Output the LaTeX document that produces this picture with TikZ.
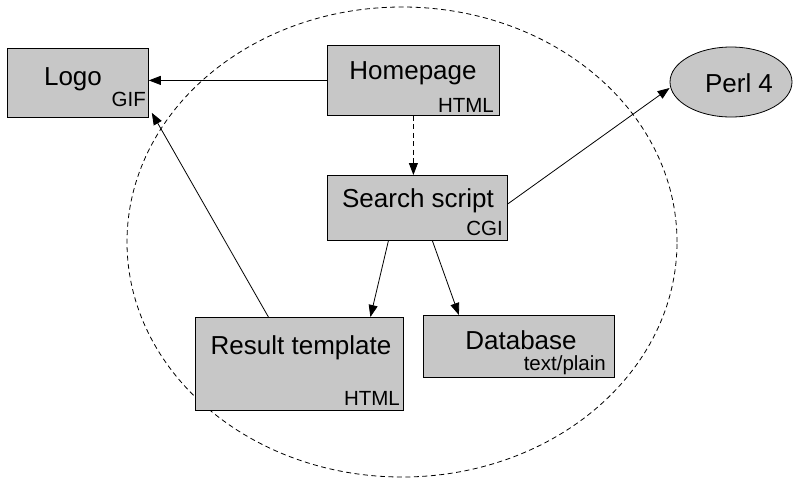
\documentclass[tikz,border=0pt]{standalone}
\usepackage{fontspec}
\setmainfont{Liberation Sans}
\usetikzlibrary{arrows.meta,calc,shapes.geometric}

\tikzset{
  box/.style={draw=black, line width=0.8pt, fill=black!22, rectangle,
    inner sep=0pt, anchor=north west},
  title/.style={font=\fontsize{26}{30}\selectfont, anchor=base, inner sep=0pt},
  kind/.style={font=\fontsize{20.5}{24}\selectfont, anchor=base east, inner sep=0pt},
  link/.style={line width=0.8pt, -{Triangle[length=12pt,width=9pt]}},
  dashline/.style={dash pattern=on 5pt off 3.5pt},
}

\begin{document}
\begin{tikzpicture}[x=1pt,y=-1pt]
  \useasboundingbox (0,0) rectangle (797,480);

  % the boundary of the web site
  \node[draw, dashline, line width=0.8pt, ellipse, minimum width=550pt,
        minimum height=470pt, inner sep=0pt] (site) at (402,242) {};

  % documents
  \node[box, minimum width=141pt, minimum height=69pt] (logo) at (7,48) {};
  \node[box, minimum width=172pt, minimum height=70pt] (home) at (327,45) {};
  \node[box, minimum width=180pt, minimum height=65pt] (search) at (327,175) {};
  \node[box, minimum width=208pt, minimum height=93pt] (result) at (195,317) {};
  \node[box, minimum width=191pt, minimum height=62pt] (db) at (423,315) {};
  \node[draw, line width=0.8pt, fill=black!22, ellipse, minimum width=122pt,
        minimum height=70pt, inner sep=0pt] (perl) at (731,82) {};

  % labels
  \node[title] (logoT) at (73,85) {Logo};
  \node[kind] (logoK) at (146,106) {GIF};
  \node[title] (homeT) at (413,79) {Homepage};
  \node[kind] (homeK) at (494,112) {HTML};
  \node[title] (searchT) at (418,207) {Search script};
  \node[kind] (searchK) at (503,235) {CGI};
  \node[title] (resultT) at (301,354) {Result template};
  \node[kind] (resultK) at (400,405) {HTML};
  \node[title] (dbT) at (521,349) {Database};
  \node[kind] (dbK) at (606,370) {text/plain};
  \node[title] (perlT) at (739,92) {Perl 4};

  % connections
  \draw[link] (home.west) -- (home.west -| logo.east);
  \draw[link, dashline] (home.south) -- (home.south |- search.north);
  \draw[link] ($(search.east)+(0,-4)$) -- ($(perl.west)+(0,6)$);
  \draw[link] ($(search.south)+(-29,0)$) -- ($(result.north)+(71,0)$);
  \draw[link] ($(search.south)+(15,0)$) -- ($(db.north)+(-60,0)$);
  \draw[link] ($(result.north)+(-31,0)$) -- ($(logo.south east)+(3,-5)$);
\end{tikzpicture}
\end{document}
